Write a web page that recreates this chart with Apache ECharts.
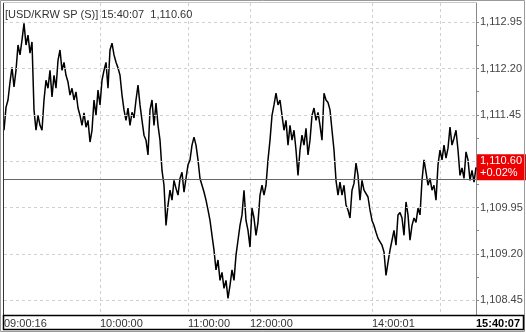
<!DOCTYPE html>
<html><head><meta charset="utf-8">
<script src="https://cdn.jsdelivr.net/npm/echarts@6/dist/echarts.min.js"></script>
<style>html,body{margin:0;padding:0;background:#fff}#c{width:526px;height:333px}</style>
</head><body><div id="c"></div>
<script>
const TITLE = '[USD/KRW SP (S)] 15:40:07  1,110.60';
const PREV_CLOSE = 1110.40;
const PRICES = [
1111.20,1111.57,1111.69,1111.98,1112.22,1111.90,1112.17,1112.58,1112.42,1112.66,
1112.93,1112.58,1112.74,1112.45,1112.63,1111.53,1111.20,1111.44,1111.28,1111.20,
1111.69,1112.01,1111.88,1112.17,1111.74,1112.09,1111.88,1112.33,1112.50,1112.17,
1112.30,1112.09,1111.98,1111.77,1111.88,1111.69,1111.82,1111.56,1111.44,1111.28,
1111.48,1111.25,1111.36,1111.01,1111.20,1111.69,1111.44,1111.85,1111.61,1112.01,
1112.17,1112.30,1111.88,1112.50,1112.61,1112.42,1112.30,1112.21,1112.09,1111.77,
1111.53,1111.36,1111.56,1111.28,1111.49,1111.40,1111.69,1111.93,1111.61,1111.36,
1111.12,1111.04,1110.80,1111.53,1111.69,1111.28,1111.64,1111.28,1111.04,1110.55,
1110.31,1109.66,1109.99,1110.23,1110.07,1110.39,1110.26,1110.15,1110.42,1110.52,
1110.20,1110.42,1110.64,1110.72,1110.96,1111.09,1110.96,1110.72,1110.42,1110.31,
1110.20,1110.07,1109.91,1109.74,1109.50,1109.26,1108.94,1109.10,1108.77,1108.90,
1108.64,1108.77,1108.48,1108.69,1108.94,1108.77,1109.18,1109.42,1109.66,1109.83,
1110.23,1109.74,1109.58,1109.31,1109.94,1109.78,1109.50,1109.71,1110.15,1110.31,
1110.15,1110.31,1110.72,1111.04,1111.44,1111.61,1111.80,1111.61,1111.69,1111.44,
1111.20,1111.36,1110.96,1111.28,1111.04,1111.20,1110.88,1110.47,1110.88,1111.12,
1110.96,1111.23,1110.80,1111.04,1111.44,1111.56,1111.36,1111.49,1111.28,1111.04,
1111.80,1111.69,1111.65,1111.53,1111.20,1110.88,1110.39,1110.15,1110.36,1110.15,
1110.31,1109.99,1109.91,1109.78,1110.23,1110.34,1110.67,1110.47,1110.07,1110.39,
1110.23,1110.26,1110.12,1109.91,1109.74,1109.66,1109.55,1109.45,1109.42,1109.34,
1109.23,1108.85,1109.06,1109.26,1109.42,1109.58,1109.34,1109.83,1109.87,1109.78,
1109.50,1110.04,1109.83,1109.42,1109.66,1109.78,1109.71,1109.94,1109.83,1110.39,
1110.72,1110.52,1110.31,1110.42,1110.23,1110.31,1110.07,1110.64,1110.88,1110.72,
1110.96,1110.75,1110.91,1111.25,1110.96,1111.07,1111.20,1110.88,1110.47,1110.59,
1110.42,1110.85,1110.72,1110.39,1110.55,1110.36,1110.60
];
const TIME_LABELS = ['09:00:16', '10:00:00', '11:00:00', '12:00:00', '14:00:01', '15:40:07'];
const TIME_LABEL_INDEX = [0, 48, 92, 123, 184, 236];
const VGRID_INDEX = [48, 92, 123, 184, 218];
const Y_LABELS = [1108.45, 1109.20, 1109.95, 1110.70, 1111.45, 1112.20, 1112.95];
const Y_TICKS = [1108.45, 1108.825, 1109.20, 1109.575, 1109.95, 1110.325, 1110.70, 1111.075, 1111.45, 1111.825, 1112.20, 1112.575, 1112.95];
const Y_MIN = 1108.21, Y_MAX = 1113.26;

const FONT = 'Liberation Sans';
const fmt = v => v.toLocaleString('en-US', {minimumFractionDigits: 2, maximumFractionDigits: 2});
const CATEGORIES = PRICES.map((p, i) => {
  const k = TIME_LABEL_INDEX.indexOf(i);
  return k >= 0 ? TIME_LABELS[k] : 't' + i;
});
const LAST = PRICES[PRICES.length - 1];
const pct = (LAST - PREV_CLOSE) / PREV_CLOSE * 100;
const pctText = (pct >= 0 ? '+' : '') + pct.toFixed(2) + '%';

const chart = echarts.init(document.getElementById('c'), null, {renderer: 'canvas'});
chart.setOption({
  animation: false,
  backgroundColor: '#fff',
  title: {
    text: TITLE, left: 5, top: 9, padding: 0,
    textStyle: {fontFamily: FONT, fontSize: 11, fontWeight: 'normal', color: '#333'}
  },
  grid: {left: 4, right: 50, top: 3, bottom: 18, containLabel: false},
  xAxis: {
    type: 'category', data: CATEGORIES, boundaryGap: false,
    axisLine: {show: false},
    axisTick: {show: false},
    axisLabel: {
      interval: (i) => TIME_LABEL_INDEX.indexOf(i) >= 0,
      align: 'left', margin: 3, fontFamily: FONT, fontSize: 11, color: '#333',
      formatter: (v, i) => i === PRICES.length - 1 ? '{b|' + v + '}' : v,
      rich: {b: {fontFamily: FONT, fontSize: 11, fontWeight: 'bold', color: '#000'}}
    },
    splitLine: {
      show: true,
      interval: (i) => VGRID_INDEX.indexOf(i) >= 0,
      lineStyle: {color: '#d0d0d0', type: [3, 3], width: 1}
    }
  },
  yAxis: {
    type: 'value', position: 'right', min: Y_MIN, max: Y_MAX, scale: true,
    axisLine: {show: true, lineStyle: {color: '#888', width: 1}},
    axisTick: {show: true, inside: false, length: 3, customValues: Y_TICKS, lineStyle: {color: '#888'}},
    axisLabel: {customValues: Y_LABELS, margin: 4, fontFamily: FONT, fontSize: 11, color: '#444',
      formatter: v => fmt(v)},
    splitLine: {show: false}
  },
  series: [
    {
      type: 'line', data: [], z: 1, silent: true,
      markLine: {
        silent: true, symbol: 'none', animation: false,
        label: {show: false},
        lineStyle: {color: '#d0d0d0', type: [3, 3], width: 1},
        data: Y_LABELS.map(v => ({yAxis: v})).concat([
          {yAxis: PREV_CLOSE, lineStyle: {color: '#666', type: 'solid', width: 1}}
        ])
      }
    },
    {
      type: 'line', data: PRICES, z: 3, showSymbol: false, symbol: 'none',
      lineStyle: {color: '#000', width: 1.5}, silent: true,
      markLine: {
        silent: true, symbol: 'none', animation: false,
        lineStyle: {color: 'rgba(0,0,0,0)', width: 1, type: 'solid'},
        data: [{yAxis: LAST}],
        label: {
          show: true, position: 'end', distance: 1,
          formatter: () => fmt(LAST) + '\n' + pctText,
          backgroundColor: '#ee0000', color: '#fff', fontFamily: FONT, fontSize: 11,
          lineHeight: 12, padding: [1, 4, 1, 3], align: 'left', verticalAlign: 'middle'
        }
      }
    }
  ],
  graphic: [
    {type: 'rect', silent: true, z: 100, shape: {x: 0.5, y: 0.5, width: 524, height: 331},
      style: {fill: 'none', stroke: '#9a9a9a', lineWidth: 1}},
    {type: 'line', silent: true, z: 100, shape: {x1: 3.5, y1: 2, x2: 3.5, y2: 315},
      style: {stroke: '#333', lineWidth: 1}},
    {type: 'line', silent: true, z: 100, shape: {x1: 3, y1: 2.5, x2: 477, y2: 2.5},
      style: {stroke: '#c8c8d0', lineWidth: 1}},
    {type: 'rect', silent: true, z: 100, shape: {x: 3.5, y: 315.5, width: 520, height: 14},
      style: {fill: 'none', stroke: '#000', lineWidth: 1.5}}
  ]
});
</script></body></html>
